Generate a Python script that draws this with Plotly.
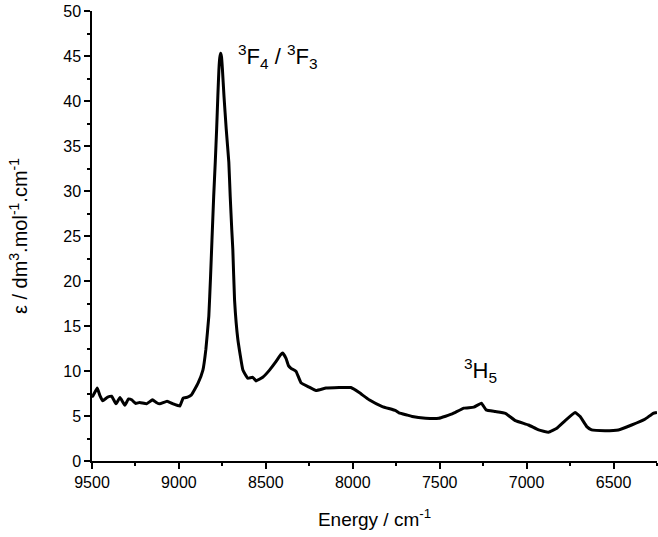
import plotly.graph_objects as go

energy = [9500, 9496, 9470, 9455, 9439, 9410, 9387, 9362, 9339, 9311, 9290, 9272, 9250, 9225,
          9186, 9152, 9130, 9110, 9068, 9034, 8995, 8976, 8950, 8928, 8890, 8862, 8845, 8828,
          8818, 8810, 8800, 8791, 8783, 8776, 8770, 8765, 8760, 8755, 8750, 8741, 8728, 8713,
          8705, 8696, 8690, 8680, 8661, 8632, 8604,
          8575, 8556, 8518, 8479, 8441, 8415, 8403, 8384, 8370, 8355, 8326, 8298, 8250, 8212,
          8154, 8078, 8011, 7963, 7906, 7830, 7753, 7734, 7686, 7658, 7581, 7505, 7428, 7361,
          7304, 7260, 7233, 7180, 7122, 7065, 6989, 6931, 6874, 6826, 6778, 6721, 6692, 6654,
          6626, 6549, 6472, 6396, 6320, 6272, 6250]
epsilon = [7.2, 7.2, 8.1, 7.3, 6.7, 7.1, 7.2, 6.35, 7.05, 6.2, 6.9, 6.8, 6.4, 6.5,
           6.35, 6.8, 6.5, 6.35, 6.65, 6.35, 6.1, 6.98, 7.1, 7.35, 8.65, 10.1, 12.4, 16.1,
           20.5, 24.5, 29.4, 33.2, 36.9, 40.6, 43.5, 44.8, 45.3, 44.9, 43.6, 40.6, 36.9, 33.2,
           29.4, 25.7, 23.5, 17.9, 13.5, 10.1, 9.2,
           9.3, 8.9, 9.3, 10.1, 11.06, 11.8, 12.0, 11.4, 10.6, 10.3, 9.95, 8.7, 8.2, 7.83,
           8.1, 8.16, 8.16, 7.6, 6.8, 6.05, 5.6, 5.35, 5.1, 4.94, 4.75, 4.75, 5.23, 5.87,
           5.98, 6.42, 5.68, 5.5, 5.3, 4.49, 4.0, 3.45, 3.19, 3.64, 4.49, 5.38, 4.94, 3.82,
           3.45, 3.37, 3.45, 4.0, 4.64, 5.3, 5.4]

x_ticks = [9500, 9000, 8500, 8000, 7500, 7000, 6500]
y_ticks = [0, 5, 10, 15, 20, 25, 30, 35, 40, 45, 50]

FONT = "Arial, Liberation Sans, sans-serif"

fig = go.Figure()
fig.add_trace(go.Scatter(x=energy, y=epsilon, mode="lines",
                         line=dict(color="black", width=3, shape="spline", smoothing=0.3),
                         showlegend=False))

fig.add_annotation(x=8431, y=44.9, text="<sup>3</sup>F<sub>4</sub> / <sup>3</sup>F<sub>3</sub>",
                   showarrow=False, font=dict(family=FONT, size=22, color="black"))
fig.add_annotation(x=7264, y=10.1, text="<sup>3</sup>H<sub>5</sub>",
                   showarrow=False, font=dict(family=FONT, size=22, color="black"))

fig.update_layout(
    width=658, height=537,
    margin=dict(l=92, r=1, t=11, b=76),
    paper_bgcolor="white", plot_bgcolor="white",
    font=dict(family=FONT, color="black"),
    xaxis=dict(range=[9500, 6250], tickmode="array", tickvals=x_ticks,
               ticks="outside", ticklen=6, tickwidth=1.5, tickcolor="black",
               showline=True, linecolor="black", linewidth=1.5, showgrid=False, zeroline=False,
               tickfont=dict(size=16, family=FONT),
               minor=dict(dtick=250, ticks="outside", ticklen=3, tickwidth=1.5, tickcolor="black", showgrid=False),
               title=dict(text="Energy / cm<sup>-1</sup>", font=dict(size=19, family=FONT), standoff=23)),
    yaxis=dict(range=[0, 50], tickmode="array", tickvals=y_ticks,
               ticks="outside", ticklen=6, tickwidth=1.5, tickcolor="black",
               showline=True, linecolor="black", linewidth=1.5, showgrid=False, zeroline=False,
               tickfont=dict(size=16, family=FONT),
               minor=dict(dtick=2.5, ticks="outside", ticklen=3, tickwidth=1.5, tickcolor="black", showgrid=False),
               title=dict(text="ε / dm<sup>3</sup>.mol<sup>-1</sup>.cm<sup>-1</sup>", font=dict(size=20, family=FONT), standoff=30)),
)

fig.write_html("out.html", config={"displayModeBar": False},
               post_script="document.body.style.margin='0';")
